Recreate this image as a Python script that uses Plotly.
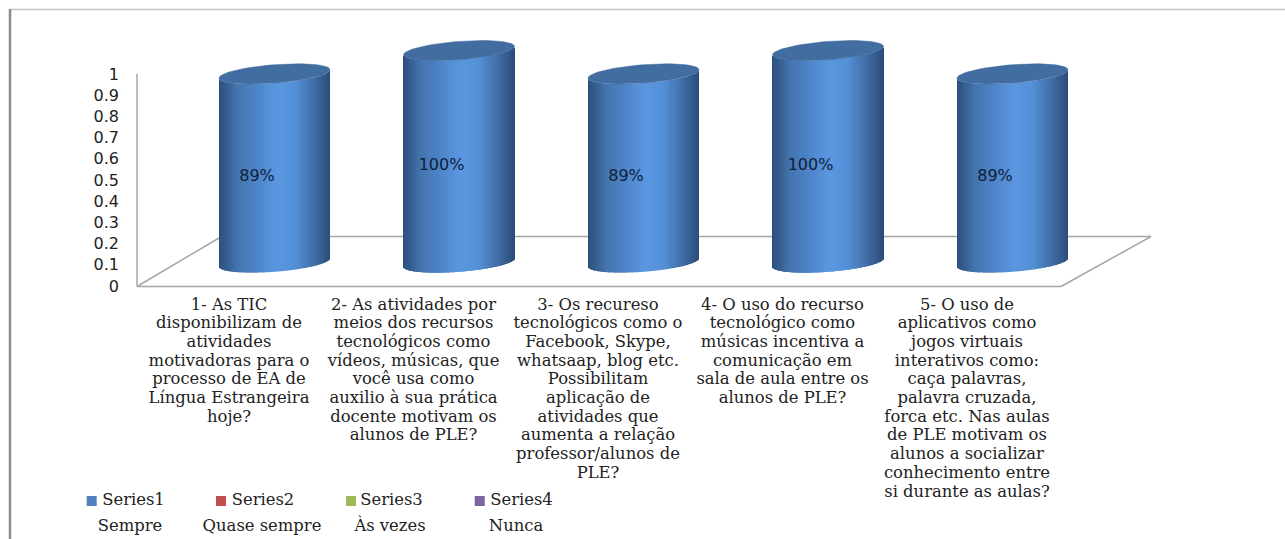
import math
import plotly.graph_objects as go

# ---------- data ----------
values = [0.89, 1.0, 0.89, 1.0, 0.89]
value_labels = ["89%", "100%", "89%", "100%", "89%"]
y_ticks = [0, 0.1, 0.2, 0.3, 0.4, 0.5, 0.6, 0.7, 0.8, 0.9, 1]
y_tick_text = ["0", "0.1", "0.2", "0.3", "0.4", "0.5", "0.6", "0.7", "0.8", "0.9", "1"]
category_lines = [
    ["1- As TIC", "disponibilizam de", "atividades", "motivadoras para o",
     "processo de EA de", "Língua Estrangeira", "hoje?"],
    ["2- As atividades por", "meios dos recursos", "tecnológicos como",
     "vídeos, músicas, que", "você usa como", "auxilio à sua prática",
     "docente motivam os", "alunos de PLE?"],
    ["3- Os recureso", "tecnológicos como o", "Facebook, Skype,",
     "whatsaap, blog etc.", "Possibilitam", "aplicação de", "atividades que",
     "aumenta a relação", "professor/alunos de", "PLE?"],
    ["4- O uso do recurso", "tecnológico como", "músicas incentiva a",
     "comunicação em", "sala de aula entre os", "alunos de PLE?"],
    ["5- O uso de", "aplicativos como", "jogos virtuais", "interativos como:",
     "caça palavras,", "palavra cruzada,", "forca etc. Nas aulas",
     "de PLE motivam os", "alunos a socializar", "conhecimento entre",
     "si durante as aulas?"],
]
series_names = ["Series1", "Series2", "Series3", "Series4"]
series_colors = ["#4f81bd", "#c0504d", "#9bbb59", "#8064a2"]
series_captions = ["Sempre", "Quase sempre", "Às vezes", "Nunca"]

# ---------- page geometry ----------
W, H = 1285, 539
PX_X1, PX_DX = 274.5, 184.5      # centre of category 1, category step
PX_Y0, PX_DY = 286.0, 212.0      # pixel of y=0, pixels per unit

def xd(px):
    return 1 + (px - PX_X1) / PX_DX

def yd(py):
    return (PX_Y0 - py) / PX_DY

X_RANGE = [xd(0), xd(W)]
Y_RANGE = [yd(H), yd(0)]

SERIF = "DejaVu Serif"
SANS = "DejaVu Sans"
CAT_SIZE = 16.4
LEG_SIZE = 16.4
TEXT_COLOR = "#222222"

# cylinder geometry (pixels)
HALF_W = 55.5
TILT = 4.2
DEPTH = 9.2
FLOOR_OFFSET = 286 - 262.6    # ellipse centre above the y=0 line

STOPS = [(0.0, (44, 80, 124)), (0.06, (52, 92, 142)), (0.16, (68, 116, 174)),
         (0.35, (78, 134, 202)), (0.52, (91, 151, 225)), (0.68, (84, 144, 214)),
         (0.84, (66, 112, 170)), (0.95, (50, 88, 136)), (1.0, (42, 76, 118))]

def shade(f):
    for (a, ca), (b, cb) in zip(STOPS, STOPS[1:]):
        if f <= b:
            t = (f - a) / (b - a)
            return "rgb(%d,%d,%d)" % tuple(round(p + (q - p) * t) for p, q in zip(ca, cb))
    return "rgb(42,76,118)"

fig = go.Figure()

# cylinders: 1 px strips whose height is the value
strip_x, strip_y, strip_base, strip_col = [], [], [], []
N = int(2 * HALF_W)
for i, v in enumerate(values):
    cx = PX_X1 + i * PX_DX
    for s in range(N):
        u = (s + 0.5) / N * 2 - 1
        low = -TILT * u + DEPTH * math.sqrt(max(0, 1 - u * u))
        strip_x.append(xd(cx + u * HALF_W))
        strip_y.append(v)
        strip_base.append(yd(PX_Y0 - FLOOR_OFFSET + low))
        strip_col.append(shade((u + 1) / 2))
fig.add_trace(go.Bar(x=strip_x, y=strip_y, base=strip_base, width=1 / PX_DX,
                     marker=dict(color=strip_col, line=dict(width=0)),
                     hoverinfo="skip", showlegend=False))

# cylinder tops
for i, v in enumerate(values):
    cx = PX_X1 + i * PX_DX
    xs, ys = [], []
    for k in range(73):
        t = 2 * math.pi * k / 72
        xs.append(xd(cx + HALF_W * math.cos(t)))
        ys.append(yd(PX_Y0 - FLOOR_OFFSET) + v - (-TILT * math.cos(t) + DEPTH * math.sin(t)) / PX_DY)
    fig.add_trace(go.Scatter(x=xs, y=ys, mode="lines", fill="toself", fillcolor="#416da1",
                             line=dict(color="#416da1", width=0.5), hoverinfo="skip",
                             showlegend=False))

# value labels
fig.add_trace(go.Scatter(x=[1 + i + xd(PX_X1 - 17.5) - 1 for i in range(len(values))],
                         y=[v / 2 + 0.067 for v in values], mode="text", text=value_labels,
                         textfont=dict(family=SANS, size=16, color="#10203a"),
                         hoverinfo="skip", showlegend=False))

# category labels, one row per line
cx_all, cy_all, ct_all = [], [], []
for i, lines in enumerate(category_lines):
    for j, line in enumerate(lines):
        cx_all.append(xd(PX_X1 - 45.5 + i * PX_DX))
        cy_all.append(yd(305.5 + j * 18.7))
        ct_all.append(line)
fig.add_trace(go.Scatter(x=cx_all, y=cy_all, mode="text", text=ct_all,
                         textfont=dict(family=SERIF, size=CAT_SIZE, color=TEXT_COLOR),
                         hoverinfo="skip", showlegend=False))

# legend row
LEG_MARK = [91.7, 221, 351, 479.7]
LEG_TEXT = [133.5, 263, 391.5, 521.5]
LEG_CAP = [130, 262, 390, 516]
for mx, tx, cap, name, col, caption in zip(LEG_MARK, LEG_TEXT, LEG_CAP, series_names,
                                           series_colors, series_captions):
    fig.add_trace(go.Scatter(x=[xd(mx)], y=[yd(501)], mode="markers", name=name,
                             marker=dict(symbol="square", size=10, color=col, line=dict(width=0)),
                             hoverinfo="skip", showlegend=False))
    fig.add_trace(go.Scatter(x=[xd(tx), xd(cap)], y=[yd(501), yd(527)], mode="text",
                             text=[name, caption],
                             textfont=dict(family=SERIF, size=LEG_SIZE, color=TEXT_COLOR),
                             hoverinfo="skip", showlegend=False))

GREY = "#a6a6a6"
def seg(x0, y0, x1, y1, color=GREY, width=1.5, ref="data"):
    if ref == "data":
        return dict(type="line", xref="x", yref="y", x0=xd(x0), y0=yd(y0), x1=xd(x1), y1=yd(y1),
                    line=dict(color=color, width=width), layer="below")
    return dict(type="line", xref="paper", yref="paper", x0=x0 / W, y0=1 - y0 / H, x1=x1 / W,
                y1=1 - y1 / H, line=dict(color=color, width=width), layer="below")

shapes = [
    seg(137, 74, 137, 286.5),
    seg(137, 286.5, 1061, 286.5),
    seg(137, 286.5, 219, 238),
    seg(219, 236.5, 1151, 236.5),
    seg(1151, 236.5, 1061, 286.5),
    seg(10, 9.5, W, 9.5, color="#c4c4c4", width=1.5, ref="paper"),
    seg(10, 9, 10, H, color="#8c8c8c", width=2.5, ref="paper"),
]

fig.update_layout(
    width=W, height=H, margin=dict(l=0, r=0, t=0, b=0), autosize=False,
    paper_bgcolor="white", plot_bgcolor="rgba(0,0,0,0)", barmode="overlay", showlegend=False,
    shapes=shapes,
    xaxis=dict(range=X_RANGE, visible=False, fixedrange=True),
    yaxis=dict(range=Y_RANGE, anchor="free", position=137 / W, showgrid=False, zeroline=False,
               showline=False, tickmode="array", tickvals=y_ticks, ticktext=y_tick_text,
               ticks="", ticklabelstandoff=18, fixedrange=True,
               tickfont=dict(family=SANS, size=16, color="#222222")),
)
fig.write_html("out.html", config=dict(displayModeBar=False),
               post_script="document.body.style.margin='0';document.documentElement.style.overflow='hidden';")
